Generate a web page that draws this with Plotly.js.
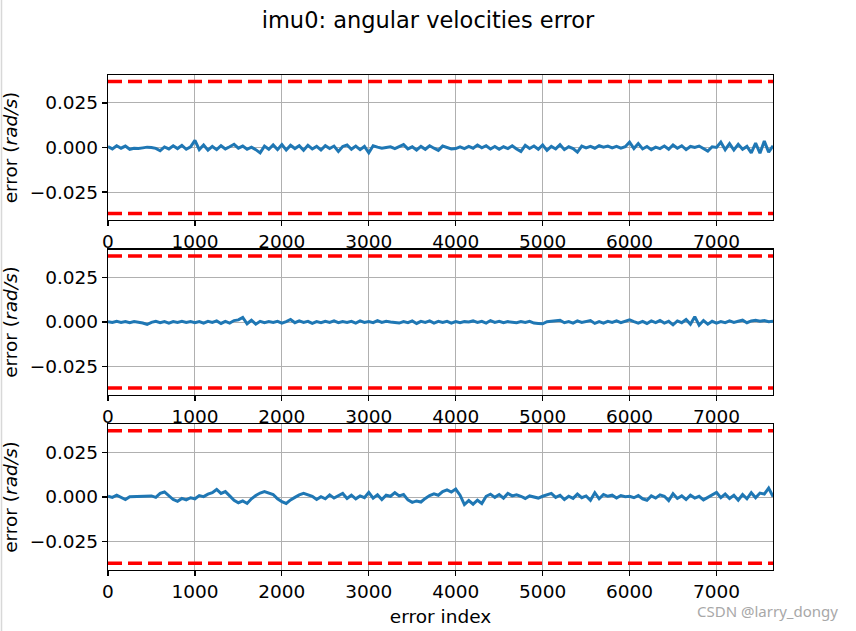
<!DOCTYPE html>
<html>
<head>
<meta charset="utf-8">
<script src="https://cdn.plot.ly/plotly-3.0.1.min.js"></script>
<style>html,body{margin:0;padding:0;background:#fff;}#chart{width:856px;height:631px;}</style>
</head>
<body>
<div id="chart"></div>
<script>
const sampleStep = 50;
const errorBound = 0.037;            // red dashed limits (±)
const xTickVals = [0, 1000, 2000, 3000, 4000, 5000, 6000, 7000];
const yTickVals = [-0.025, 0.0, 0.025];
const yTickText = ["\u22120.025", "0.000", "0.025"];

const errX = [
 0.0005,-0.0008,0.0010,-0.0004,0.0008,-0.0010,-0.0004,-0.0006,-0.0002,0.0002,
 0.0000,-0.0005,-0.0018,0.0003,-0.0008,0.0010,-0.0006,0.0012,-0.0010,0.0004,
 0.0040,-0.0012,0.0014,-0.0015,0.0006,-0.0012,0.0010,-0.0008,0.0004,0.0018,
 -0.0004,0.0008,-0.0010,0.0002,-0.0012,-0.0030,0.0008,-0.0010,0.0014,-0.0012,
 0.0016,-0.0014,0.0012,-0.0006,0.0010,-0.0016,0.0012,-0.0008,0.0006,-0.0014,
 0.0010,-0.0006,0.0008,-0.0022,0.0006,0.0014,-0.0010,0.0008,-0.0012,0.0006,
 -0.0030,0.0010,0.0002,-0.0004,0.0000,0.0004,-0.0006,0.0006,0.0016,-0.0008,
 0.0004,-0.0014,0.0006,-0.0010,0.0010,-0.0004,-0.0016,0.0008,0.0002,-0.0008,
 -0.0006,0.0004,-0.0006,0.0006,-0.0004,0.0014,-0.0002,0.0010,-0.0008,0.0006,
 -0.0010,0.0004,-0.0006,0.0010,-0.0008,-0.0022,0.0012,-0.0006,0.0008,-0.0010,
 0.0014,-0.0016,0.0006,-0.0008,0.0016,-0.0012,0.0004,-0.0006,-0.0026,0.0008,
 -0.0002,0.0006,-0.0004,0.0010,0.0002,0.0008,-0.0002,0.0006,-0.0004,0.0004,
 0.0030,-0.0006,0.0022,-0.0008,0.0006,-0.0012,0.0002,-0.0006,0.0008,-0.0010,
 0.0014,-0.0004,0.0010,-0.0012,0.0006,0.0000,0.0008,-0.0006,-0.0020,0.0004,
 0.0000,0.0030,-0.0012,0.0022,-0.0014,0.0018,-0.0010,0.0006,-0.0030,0.0024,
 -0.0032,0.0036,-0.0026,0.0010
];

const errY = [
 0.0002,-0.0003,0.0004,-0.0002,0.0003,-0.0004,0.0002,-0.0001,-0.0006,-0.0014,
 -0.0002,0.0004,-0.0004,0.0002,-0.0006,0.0003,-0.0002,0.0004,-0.0003,0.0002,
 -0.0004,0.0003,-0.0006,0.0004,-0.0002,0.0006,-0.0008,0.0004,-0.0006,0.0008,
 0.0012,0.0026,-0.0010,0.0010,-0.0012,0.0004,-0.0004,0.0002,-0.0002,0.0004,
 -0.0006,0.0002,0.0014,-0.0004,0.0006,-0.0002,0.0004,-0.0008,0.0002,-0.0004,
 0.0004,-0.0002,0.0006,-0.0004,0.0002,-0.0002,0.0004,-0.0006,0.0006,-0.0002,
 0.0002,-0.0004,0.0008,-0.0002,0.0004,0.0000,-0.0004,-0.0006,0.0002,-0.0004,
 0.0006,-0.0008,0.0004,-0.0002,0.0006,-0.0006,0.0004,-0.0002,0.0004,-0.0006,
 0.0002,-0.0004,0.0002,0.0000,0.0006,-0.0002,0.0004,-0.0006,0.0008,-0.0002,
 0.0004,-0.0004,0.0002,0.0000,-0.0004,0.0002,-0.0002,0.0004,-0.0006,-0.0008,
 -0.0010,0.0002,0.0004,0.0008,0.0010,-0.0004,0.0002,-0.0006,0.0006,-0.0002,
 0.0004,0.0008,-0.0008,0.0002,-0.0006,0.0004,-0.0002,0.0006,-0.0004,0.0004,
 0.0012,0.0002,-0.0006,0.0004,-0.0008,0.0006,-0.0004,0.0008,-0.0006,0.0004,
 -0.0016,0.0006,-0.0004,0.0014,-0.0012,0.0030,-0.0018,0.0008,-0.0012,0.0004,
 -0.0006,0.0002,-0.0004,0.0006,-0.0002,0.0004,0.0010,-0.0004,0.0006,0.0010,
 0.0004,0.0008,0.0002,0.0004
];

const errZ = [
 0.0004,-0.0002,0.0010,-0.0004,-0.0014,0.0002,0.0002,0.0003,0.0003,0.0002,
 0.0006,-0.0002,0.0020,0.0028,0.0008,-0.0014,-0.0024,-0.0008,-0.0016,-0.0004,
 -0.0010,0.0008,0.0002,0.0016,0.0024,0.0042,0.0020,0.0030,0.0006,-0.0018,
 -0.0032,-0.0022,-0.0036,-0.0010,0.0008,0.0022,0.0030,0.0024,0.0014,-0.0010,
 -0.0026,-0.0036,-0.0016,-0.0002,0.0012,0.0020,0.0014,0.0004,-0.0014,0.0002,
 -0.0010,0.0012,-0.0006,0.0008,0.0020,-0.0008,0.0010,-0.0010,0.0006,-0.0004,
 0.0026,-0.0006,0.0012,-0.0014,0.0010,0.0004,0.0024,0.0006,0.0014,-0.0016,
 -0.0030,-0.0022,-0.0028,-0.0008,0.0008,0.0018,0.0010,0.0030,0.0040,0.0028,
 0.0044,0.0010,-0.0042,-0.0020,-0.0040,-0.0018,-0.0036,0.0004,0.0016,-0.0002,
 0.0014,-0.0006,0.0020,0.0006,0.0012,0.0004,-0.0008,0.0006,0.0002,-0.0006,
 0.0004,0.0010,0.0020,-0.0002,0.0010,-0.0014,0.0004,-0.0008,0.0016,-0.0004,
 0.0006,-0.0018,0.0024,-0.0010,0.0014,0.0004,0.0010,-0.0006,0.0008,0.0002,
 0.0004,-0.0004,0.0008,-0.0010,-0.0018,0.0006,-0.0006,0.0012,0.0004,-0.0020,
 0.0018,-0.0008,0.0006,-0.0014,0.0010,-0.0006,0.0004,-0.0016,-0.0002,0.0014,
 0.0026,-0.0004,0.0016,-0.0008,0.0010,-0.0018,0.0014,-0.0010,0.0024,-0.0004,
 0.0022,0.0016,0.0050,0.0002
];

// ---- build ----
const series = [errX, errY, errZ];
const FONT = "DejaVu Sans, Liberation Sans, sans-serif";
const W = 856, H = 631;
const xDomain = [108 / W, 773 / W];
const yPix = [[75, 220], [249.5, 394.5], [424, 570]];
const TICK_SIZE = 18.5;

const traces = [];
const layout = {
  width: W, height: H,
  margin: {l: 0, r: 0, t: 0, b: 0},
  paper_bgcolor: "#ffffff", plot_bgcolor: "#ffffff",
  showlegend: false,
  font: {family: FONT, size: TICK_SIZE, color: "#000"},
  title: {text: "imu0: angular velocities error", font: {family: FONT, size: 22.5, color: "#000"},
          x: 0.5, xanchor: "center", y: 1 - 20 / H, yanchor: "middle", yref: "container"},
  annotations: [
    {text: "CSDN @larry_dongy", xref: "paper", yref: "paper", x: 767 / W, y: 1 - 611 / H,
     xanchor: "center", yanchor: "middle", showarrow: false,
     font: {family: "Noto Sans, Liberation Sans, sans-serif", size: 15, color: "#a8a8a8"}}
  ],
  shapes: [
    {type: "line", xref: "paper", yref: "paper", x0: 1.5 / W, x1: 1.5 / W, y0: 0, y1: 1,
     line: {color: "#d8d8d8", width: 1.5}}
  ]
};

series.forEach((vals, k) => {
  const n = k + 1;
  const xa = n === 1 ? "x" : "x" + n;
  const ya = n === 1 ? "y" : "y" + n;
  const xs = vals.map((v, i) => i * sampleStep);
  const xEnd = xs[xs.length - 1];
  traces.push({x: xs, y: vals, xaxis: xa, yaxis: ya, type: "scatter", mode: "lines",
               line: {color: "#1f77b4", width: 3}, hoverinfo: "skip"});
  [errorBound, -errorBound].forEach(b => {
    traces.push({x: [0, xEnd], y: [b, b], xaxis: xa, yaxis: ya, type: "scatter", mode: "lines",
                 line: {color: "#ff0000", width: 3.5, dash: "14px,6px"}, hoverinfo: "skip"});
  });
  const [top, bot] = yPix[k];
  const axCommon = {showline: true, mirror: true, linecolor: "#000", linewidth: 1.2,
                    ticks: "outside", ticklen: 5, tickwidth: 1.2, tickcolor: "#000",
                    showgrid: true, gridcolor: "#b0b0b0", gridwidth: 1, zeroline: false,
                    tickfont: {family: FONT, size: TICK_SIZE, color: "#000"}};
  layout["xaxis" + (n === 1 ? "" : n)] = Object.assign({}, axCommon, {
    domain: xDomain, anchor: ya, range: [0, xEnd], tickvals: xTickVals,
    ticktext: xTickVals.map(String),
    title: n === 3 ? {text: "error index", font: {family: FONT, size: TICK_SIZE, color: "#000"}, standoff: 8} : {text: ""}
  });
  layout["yaxis" + (n === 1 ? "" : n)] = Object.assign({}, axCommon, {
    domain: [1 - bot / H, 1 - top / H], anchor: xa,
    range: [-errorBound * 1.1, errorBound * 1.1],
    tickvals: yTickVals, ticktext: yTickText,
    title: {text: "error (<i>rad/s</i>)", font: {family: FONT, size: TICK_SIZE, color: "#000"}, standoff: 8}
  });
});

Plotly.newPlot("chart", traces, layout, {displayModeBar: false, staticPlot: true});
</script>
</body>
</html>
